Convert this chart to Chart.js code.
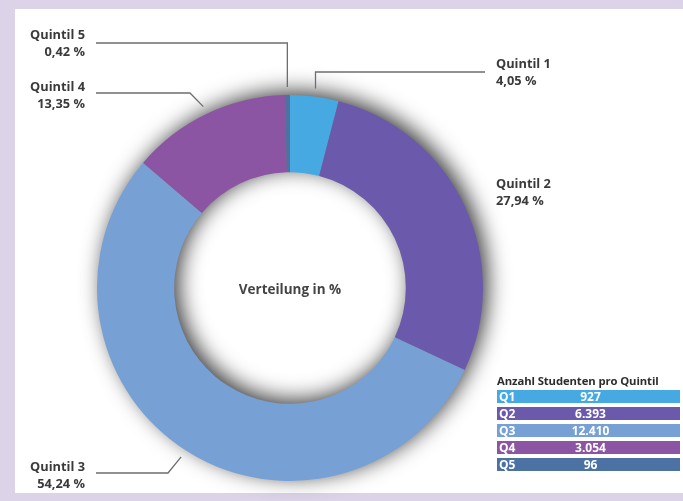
<!DOCTYPE html>
<html>
<head>
<meta charset="utf-8">
<script src="https://cdn.jsdelivr.net/npm/chart.js@4"></script>
<style>
	body { margin: 0; width: 683px; height: 501px; background: #dcd3e8; overflow: hidden; font-family: "Open Sans", sans-serif; }
	#panel { position: absolute; left: 15px; top: 9px; right: 0; bottom: 8px; background: #fff; }
	#wrap { position: absolute; left: 0; top: 0; width: 683px; height: 501px; }
	#table { position: absolute; left: 497px; top: 373px; width: 183px; }
	#table .title { font-weight: 700; font-size: 11.3px; color: #2d2d2d; margin-bottom: 2px; white-space: nowrap; letter-spacing: -0.1px; }
	#table .row { position: relative; height: 13px; margin-bottom: 4px; color: #fff; font-weight: 700; font-size: 12px; line-height: 13px; }
	#table .row .code { position: absolute; left: 2px; }
	#table .row .val { display: block; text-align: center; padding-left: 4px; }
</style>
</head>
<body>
<div id="panel"></div>
<div id="wrap"><canvas id="myChart"></canvas></div>
<div id="table"></div>
<script>
	// --- data ---
	var categories = ['Quintil 1', 'Quintil 2', 'Quintil 3', 'Quintil 4', 'Quintil 5'];
	var shares = [4.05, 27.94, 54.24, 13.35, 0.42];
	var codes = ['Q1', 'Q2', 'Q3', 'Q4', 'Q5'];
	var students = [927, 6393, 12410, 3054, 96];
	var colors = ['#46a9e1', '#6b5aab', '#77a0d5', '#8b55a4', '#4c72a3'];
	var centerText = 'Verteilung in %';
	var tableTitle = 'Anzahl Studenten pro Quintil';

	function fmtShare(v) {
		return v.toFixed(2).replace('.', ',') + ' %';
	}
	function fmtCount(v) {
		return String(v).replace(/\B(?=(\d{3})+(?!\d))/g, '.');
	}

	// label layout: where the text sits and the elbow of the leader line
	var labelLayout = [
		{ tx: 496, ty: 64, align: 'left', line: [[317, 72], [485, 72]], vertical: true },
		{ tx: 496, ty: 184, align: 'left', line: null },
		{ tx: 85, ty: 467, align: 'right', line: [[168, 473], [96, 473]] },
		{ tx: 85, ty: 87, align: 'right', line: [[190, 93], [96, 93]] },
		{ tx: 85, ty: 35, align: 'right', line: [[287, 43], [96, 43]], vertical: true }
	];

	// ring shadow drawn before the slices
	var ringShadow = {
		id: 'ringShadow',
		beforeDatasetsDraw(chart) {
			var arc = chart.getDatasetMeta(0).data[0];
			if (!arc) return;
			var ctx = chart.ctx;
			ctx.save();
			ctx.shadowColor = 'rgba(0,0,0,0.8)';
			ctx.shadowBlur = 22;
			ctx.shadowOffsetX = 5;
			ctx.shadowOffsetY = -4;
			ctx.fillStyle = '#777';
			ctx.beginPath();
			ctx.arc(arc.x, arc.y, arc.outerRadius - 1, 0, Math.PI * 2);
			ctx.arc(arc.x, arc.y, arc.innerRadius + 1, 0, Math.PI * 2, true);
			ctx.fill();
			ctx.restore();
		}
	};

	// leader lines, labels and center text
	var labelsPlugin = {
		id: 'labelsPlugin',
		afterDatasetsDraw(chart) {
			var ctx = chart.ctx;
			var meta = chart.getDatasetMeta(0);
			ctx.save();
			meta.data.forEach(function(arc, i) {
				var lay = labelLayout[i];
				var mid = (arc.startAngle + arc.endAngle) / 2;
				var r = arc.outerRadius + 8;
				var px = arc.x + Math.cos(mid) * r;
				var py = arc.y + Math.sin(mid) * r;
				if (lay.line) {
					ctx.strokeStyle = '#6e6e6e';
					ctx.lineWidth = 1.3;
					ctx.beginPath();
					ctx.moveTo(px, py);
					if (lay.vertical) {
						ctx.lineTo(px, lay.line[0][1]);
						ctx.lineTo(lay.line[1][0], lay.line[1][1]);
					} else {
						ctx.lineTo(lay.line[0][0], lay.line[0][1]);
						ctx.lineTo(lay.line[1][0], lay.line[1][1]);
					}
					ctx.stroke();
				}
				ctx.fillStyle = '#3a3a3a';
				ctx.font = 'bold 12.8px "Open Sans"';
				ctx.textAlign = lay.align;
				ctx.textBaseline = 'middle';
				ctx.fillText(categories[i], lay.tx, lay.ty);
				ctx.fillText(fmtShare(shares[i]), lay.tx, lay.ty + 17);
			});
			var a0 = meta.data[0];
			ctx.font = 'bold 13.5px "Open Sans"';
			ctx.textAlign = 'center';
			ctx.fillStyle = '#444';
			ctx.fillText(centerText, a0.x, a0.y + 2);
			ctx.restore();
		}
	};

	var data = {
		labels: categories,
		datasets: [{
			data: shares,
			backgroundColor: colors,
			borderWidth: 0
		}]
	};

	var config = {
		type: 'doughnut',
		data: data,
		options: {
			responsive: true,
			maintainAspectRatio: false,
			animation: false,
			cutout: '60%',
			layout: { padding: { left: 97, top: 95, right: 200, bottom: 20 } },
			plugins: {
				legend: { display: false },
				tooltip: { enabled: false }
			}
		},
		plugins: [ringShadow, labelsPlugin]
	};

	var myChart = new Chart(document.getElementById('myChart'), config);

	// student count table
	var table = document.getElementById('table');
	var html = '<div class="title">' + tableTitle + '</div>';
	for (var i = 0; i < codes.length; i++) {
		html += '<div class="row" style="background:' + colors[i] + '"><span class="code">' + codes[i] +
			'</span><span class="val">' + fmtCount(students[i]) + '</span></div>';
	}
	table.innerHTML = html;
</script>
</body>
</html>
